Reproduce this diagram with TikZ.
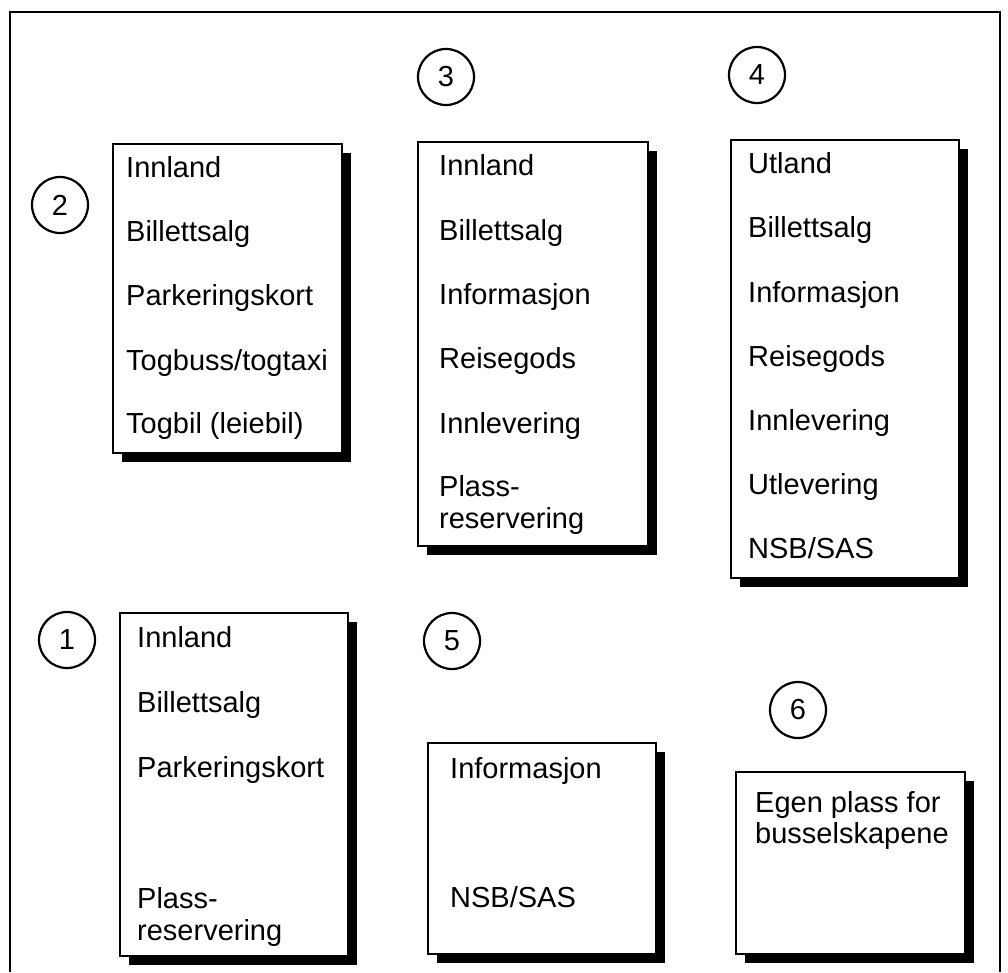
\documentclass[tikz,border=0pt]{standalone}
\usepackage{fontspec}
\setmainfont{Liberation Sans}
\usetikzlibrary{positioning,shadows}

\tikzset{
  card/.style={draw,line width=2pt,fill=white,anchor=north west,inner sep=0pt,
    drop shadow={shadow xshift=9pt,shadow yshift=-9pt,opacity=1,fill=black}},
  num/.style={draw,circle,line width=2.2pt,minimum size=56pt,inner sep=0pt,font=\fontsize{29}{33}\selectfont},
  item/.style={anchor=base west,inner sep=0pt,font=\fontsize{29}{33}\selectfont}
}

\begin{document}
\begin{tikzpicture}[x=1pt,y=-1pt]
              \useasboundingbox (0,0) rectangle (1008,972);

              %frame
              \draw[line width=2pt] (10,972) -- (10,12) -- (1000,12) -- (1000,972);

              %boxes
              \node[card,minimum width=228pt,minimum height=343pt] (b1) at (119,612) {};
              \node[card,minimum width=229pt,minimum height=309pt] (b2) at (112,143) {};
              \node[card,minimum width=230pt,minimum height=404pt] (b3) at (417,141) {};
              \node[card,minimum width=228pt,minimum height=438pt] (b4) at (730,139) {};
              \node[card,minimum width=228pt,minimum height=211pt] (b5) at (427,742) {};
              \node[card,minimum width=229pt,minimum height=182pt] (b6) at (735,771) {};

              %numbers
              \node[num] (c1) at (67,640) {1};
              \node[num] (c2) at (60,205) {2};
              \node[num] (c3) at (446,77) {3};
              \node[num] (c4) at (757,75) {4};
              \node[num] (c5) at (452,641) {5};
              \node[num] (c6) at (798,710) {6};

              %b1
              \node[item] (b1a) at (137,647) {Innland};
              \node[item] (b1b) at (137,712) {Billettsalg};
              \node[item] (b1c) at (137,777) {Parkeringskort};
              \node[item] (b1d) at (137,908) {Plass-};
              \node[item] (b1e) at (137,940) {reservering};

              %b2
              \node[item] (b2a) at (126,177) {Innland};
              \node[item] (b2b) at (126,241) {Billettsalg};
              \node[item] (b2c) at (126,305) {Parkeringskort};
              \node[item] (b2d) at (126,370) {Togbuss/togtaxi};
              \node[item] (b2e) at (126,433) {Togbil (leiebil)};

              %b3
              \node[item] (b3a) at (439,175) {Innland};
              \node[item] (b3b) at (439,240) {Billettsalg};
              \node[item] (b3c) at (439,304) {Informasjon};
              \node[item] (b3d) at (439,368) {Reisegods};
              \node[item] (b3e) at (439,433) {Innlevering};
              \node[item] (b3f) at (439,496) {Plass-};
              \node[item] (b3g) at (439,528) {reservering};

              %b4
              \node[item] (b4a) at (748,173) {Utland};
              \node[item] (b4b) at (748,237) {Billettsalg};
              \node[item] (b4c) at (748,302) {Informasjon};
              \node[item] (b4d) at (748,366) {Reisegods};
              \node[item] (b4e) at (748,430) {Innlevering};
              \node[item] (b4f) at (748,494) {Utlevering};
              \node[item] (b4g) at (748,558) {NSB/SAS};

              %b5
              \node[item] (b5a) at (450,778) {Informasjon};
              \node[item] (b5b) at (450,907) {NSB/SAS};

              %b6
              \node[item] (b6a) at (755,812) {Egen plass for};
              \node[item] (b6b) at (755,843) {busselskapene};

            \end{tikzpicture}
\end{document}
